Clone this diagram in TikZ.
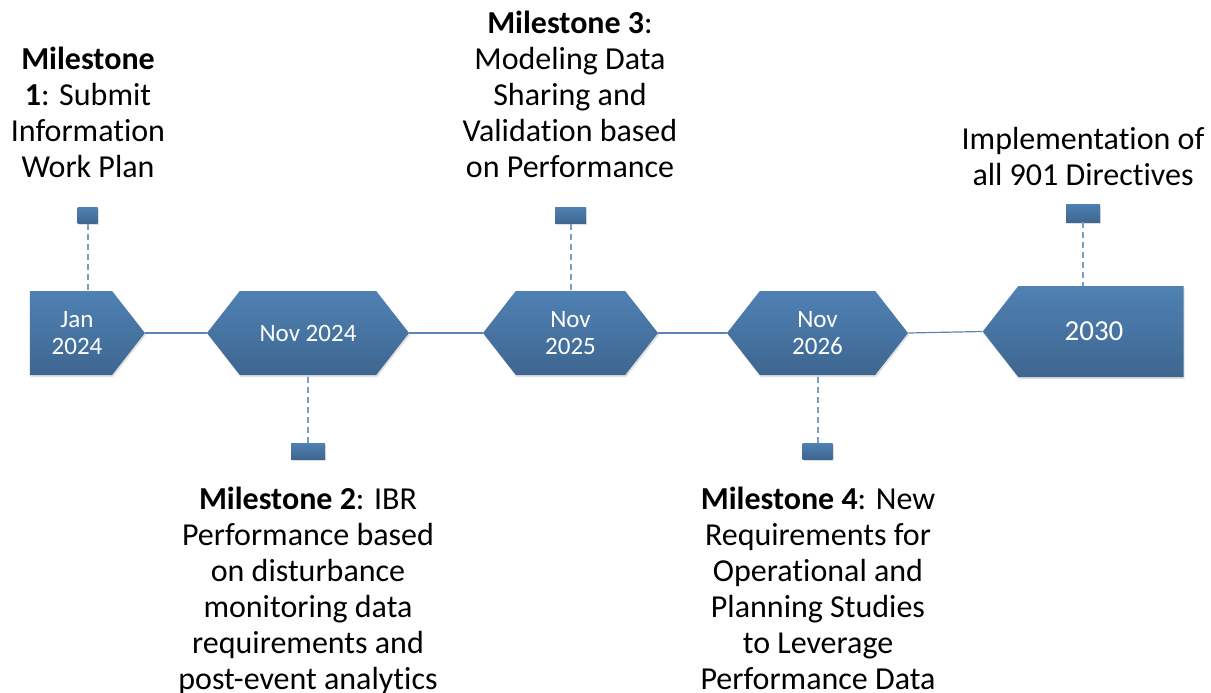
\documentclass[tikz,border=0pt]{standalone}
\usepackage{fontspec}
\setmainfont{Carlito}[Ligatures=NoCommon]
\usetikzlibrary{shapes.symbols,shadows}
\definecolor{boxtop}{HTML}{4F81B3}
\definecolor{boxbot}{HTML}{3E6690}
\definecolor{linkblue}{HTML}{5A86B4}
\definecolor{stemblue}{HTML}{7C9DC2}
\tikzset{
  datebox/.style={signal, signal pointer angle=104, top color=boxtop, bottom color=boxbot,
    draw=none, text=white, align=center, inner sep=0pt, minimum height=84pt,
    font=\fontsize{25}{27}\selectfont,
    drop shadow={shadow xshift=1pt, shadow yshift=-2pt, opacity=.25}},
  tagbox/.style={rectangle, top color=boxtop, bottom color=boxbot, draw=none,
    inner sep=0pt, minimum height=16pt,
    drop shadow={shadow xshift=1pt, shadow yshift=-1.5pt, opacity=.25}},
  link/.style={linkblue, line width=1.2pt},
  stem/.style={stemblue, line width=2pt, dash pattern=on 6pt off 4pt},
  note/.style={align=center, inner sep=0pt, anchor=base, font=\fontsize{32}{36}\selectfont}
}
\begin{document}
\begin{tikzpicture}[x=1pt,y=-1pt]
  \useasboundingbox (0,0) rectangle (1211,693);
  % timeline
  \node[datebox, signal to=east, minimum width=115pt] (jan24) at (71,333) {\hspace*{12pt}Jan\\\hspace*{12pt}2024};
  \node[datebox, signal to=west and east, minimum width=202pt] (nov24) at (308,333) {Nov 2024};
  \node[datebox, signal to=west and east, minimum width=175pt] (nov25) at (570.5,333) {Nov\\2025};
  \node[datebox, signal to=west and east, minimum width=181pt] (nov26) at (817.5,333) {Nov\\2026};
  \node[datebox, signal to=west, minimum width=201pt, minimum height=91pt,
    font=\fontsize{29}{31}\selectfont] (y2030) at (1101,331.5) {2030\hspace*{14pt}};
  \draw[link] (jan24.east) -- (nov24.west);
  \draw[link] (nov24.east) -- (nov25.west);
  \draw[link] (nov25.east) -- (nov26.west);
  \draw[link] (nov26.east) -- (y2030.west);
  % markers
  \node[tagbox, minimum width=20pt] (tag1) at (87.5,215.5) {};
  \node[tagbox, minimum width=34pt] (tag2) at (308,451) {};
  \node[tagbox, minimum width=31pt] (tag3) at (570.5,215.5) {};
  \node[tagbox, minimum width=30pt] (tag4) at (817.5,451) {};
  \node[tagbox, minimum width=34pt, minimum height=18pt] (tag5) at (1083,213) {};
  \draw[stem] (tag1.south) -- (tag1.south |- jan24.north);
  \draw[stem] (tag2.north) -- (tag2.north |- nov24.south);
  \draw[stem] (tag3.south) -- (tag3.south |- nov25.north);
  \draw[stem] (tag4.north) -- (tag4.north |- nov26.south);
  \draw[stem] (tag5.south) -- (tag5.south |- y2030.north);
  % milestone texts (base = last line)
  \node[note] (txt1) at (88,177) {\textbf{Milestone}\\\textbf{1}: Submit\\Information\\Work Plan};
  \node[note] (txt2) at (308,689) {\textbf{Milestone 2}: IBR\\Performance based\\on disturbance\\monitoring data\\requirements and\\post-event analytics};
  \node[note] (txt3) at (570,177) {\textbf{Milestone 3}:\\Modeling Data\\Sharing and\\Validation based\\on Performance};
  \node[note] (txt4) at (818,689) {\textbf{Milestone 4}: New\\Requirements for\\Operational and\\Planning Studies\\to Leverage\\Performance Data};
  \node[note] (txt5) at (1083,185) {Implementation of\\all 901 Directives};
\end{tikzpicture}
\end{document}
